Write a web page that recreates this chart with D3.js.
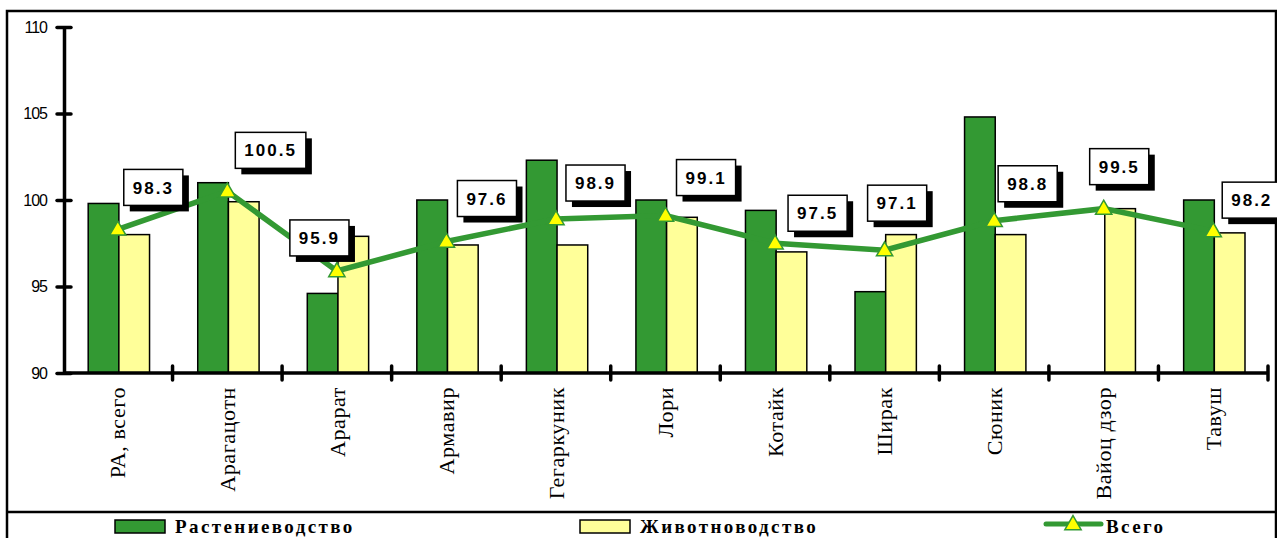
<!DOCTYPE html>
<html>
<head>
<meta charset="utf-8">
<script src="https://cdn.jsdelivr.net/npm/d3@7"></script>
<style>
  body { margin: 0; background: #fff; }
  svg { display: block; }
</style>
</head>
<body>
<div id="chart"></div>
<script>
// data
var regions = ["РА, всего", "Арагацотн", "Арарат", "Армавир", "Гегаркуник", "Лори",
               "Котайк", "Ширак", "Сюник", "Вайоц дзор", "Тавуш"];
var crops     = [99.8, 101.0, 94.6, 100.0, 102.3, 100.0, 99.4, 94.7, 104.8, null, 100.0];
var livestock = [98.0, 99.9, 97.9, 97.4, 97.4, 99.0, 97.0, 98.0, 98.0, 99.5, 98.1];
var total     = [98.3, 100.5, 95.9, 97.6, 98.9, 99.1, 97.5, 97.1, 98.8, 99.5, 98.2];
var yTicks = [90, 95, 100, 105, 110];
var seriesNames = ["Растениеводство", "Животноводство", "Всего"];

// where each value box sits relative to its point (box left, box bottom)
var labelNudge = [[6, -24], [8, -23], [-47, -15], [11, -25], [10, -18], [11, -20],
                  [13, -12], [-17, -29], [4, -19], [-14, -24], [9, -13]];

var width = 1277, height = 538;
var green = "#339933", yellow = "#FFFF99";

var svg = d3.select("#chart").append("svg")
    .attr("width", width)
    .attr("height", height);

// frame + legend separator
svg.append("rect")
    .attr("x", 7).attr("y", 11)
    .attr("width", 1269).attr("height", 560)
    .attr("fill", "none").attr("stroke", "#000").attr("stroke-width", 2.5);
svg.append("line")
    .attr("x1", 6).attr("x2", 1276).attr("y1", 512).attr("y2", 512)
    .attr("stroke", "#000").attr("stroke-width", 2.5);

var x = d3.scaleBand().domain(regions).range([63, 1268]).padding(0);
var step = x.bandwidth();
var x1 = d3.scaleBand().domain(["crops", "livestock"]).range([step * 0.23, step * 0.79]);
var y = d3.scaleLinear().domain([90, 110]).range([373, 27]);

var rows = regions.map(function(r, i){
    return {region: r, crops: crops[i], livestock: livestock[i], total: total[i], i: i};
});

// bars
var g = svg.append("g");
rows.forEach(function(d){
    [["crops", green], ["livestock", yellow]].forEach(function(s){
        var v = d[s[0]];
        if (v == null || v <= 90) return;
        g.append("rect")
            .attr("x", x(d.region) + x1(s[0]))
            .attr("y", y(v))
            .attr("width", x1.bandwidth())
            .attr("height", y(90) - y(v))
            .attr("fill", s[1])
            .attr("stroke", "#000")
            .attr("stroke-width", 1.5);
    });
});

// axes
var yAxis = svg.append("g")
    .attr("transform", "translate(64,0)")
    .call(d3.axisLeft(y).tickValues(yTicks).tickSize(0).tickPadding(17));
yAxis.select(".domain").attr("stroke-width", 3.5);
yAxis.selectAll(".tick text")
    .attr("font-family", "Arial, 'Liberation Sans', sans-serif")
    .attr("font-size", 16)
    .attr("letter-spacing", "-1px")
    .attr("fill", "#000");
yAxis.selectAll(".tick").append("line")
    .attr("x1", -7).attr("x2", 7)
    .attr("stroke", "#000").attr("stroke-width", 3.5).attr("stroke-linecap", "round");

var xAxis = svg.append("g")
    .attr("transform", "translate(0," + y(90) + ")");
xAxis.append("line")
    .attr("x1", 63).attr("x2", 1268)
    .attr("stroke", "#000").attr("stroke-width", 3.5);
xAxis.selectAll(".xt")
    .data(regions.slice(1).concat(["end"]))
    .enter().append("line")
    .attr("x1", function(d){ return d === "end" ? 1268 : x(d); })
    .attr("x2", function(d){ return d === "end" ? 1268 : x(d); })
    .attr("y1", -7).attr("y2", 7)
    .attr("stroke", "#000").attr("stroke-width", 3.5).attr("stroke-linecap", "round");

xAxis.selectAll(".xl")
    .data(regions)
    .enter().append("text")
    .attr("transform", function(d){
        return "translate(" + (x(d) + step / 2) + ",14) rotate(-90)";
    })
    .attr("dy", "0.35em")
    .attr("text-anchor", "end")
    .attr("font-family", "'Liberation Serif', 'Times New Roman', serif")
    .attr("font-size", 22)
    .attr("letter-spacing", "0.6px")
    .text(function(d){ return d; });

// total line
var px = function(d){ return x(d.region) + step / 2; };
var line = d3.line().x(px).y(function(d){ return y(d.total); });
svg.append("path")
    .datum(rows)
    .attr("d", line)
    .attr("fill", "none")
    .attr("stroke", green)
    .attr("stroke-width", 5.5);

var tri = d3.symbol().type(d3.symbolTriangle).size(115);
svg.selectAll(".mk")
    .data(rows).enter().append("path")
    .attr("d", tri)
    .attr("transform", function(d){ return "translate(" + px(d) + "," + (y(d.total) + 1) + ")"; })
    .attr("fill", "#FFFF00")
    .attr("stroke", green)
    .attr("stroke-width", 1.5);

// value boxes
rows.forEach(function(d){
    var nx = labelNudge[d.i][0], ny = labelNudge[d.i][1];
    var lg = svg.append("g");
    var t = lg.append("text")
        .attr("font-family", "Arial, 'Liberation Sans', sans-serif")
        .attr("font-weight", "bold")
        .attr("font-size", 17)
        .attr("letter-spacing", "2px")
        .text(d.total.toFixed(1));
    var tw = t.node().getComputedTextLength();
    var bw = tw + 18, bh = 36;
    var bx = px(d) + nx, by = y(d.total) + ny - bh;
    lg.insert("rect", "text")
        .attr("x", bx + 6).attr("y", by + 6)
        .attr("width", bw).attr("height", bh)
        .attr("fill", "#000");
    lg.insert("rect", "text")
        .attr("x", bx).attr("y", by)
        .attr("width", bw).attr("height", bh)
        .attr("fill", "#fff").attr("stroke", "#000").attr("stroke-width", 1.5);
    t.attr("x", bx + 9).attr("y", by + bh / 2).attr("dy", "0.36em");
});

// legend
var leg = svg.append("g");
var legFont = "'Liberation Serif', 'Times New Roman', serif";
leg.append("rect").attr("x", 115).attr("y", 520).attr("width", 50).attr("height", 13)
    .attr("fill", green).attr("stroke", "#000").attr("stroke-width", 1.5);
leg.append("rect").attr("x", 580).attr("y", 520).attr("width", 50).attr("height", 13)
    .attr("fill", yellow).attr("stroke", "#000").attr("stroke-width", 1.5);
leg.append("line").attr("x1", 1046).attr("x2", 1101).attr("y1", 524).attr("y2", 524)
    .attr("stroke", green).attr("stroke-width", 5).attr("stroke-linecap", "round");
leg.append("path").attr("d", tri)
    .attr("transform", "translate(1073,525)")
    .attr("fill", "#FFFF00").attr("stroke", green).attr("stroke-width", 1.5);
[[175, seriesNames[0]], [640, seriesNames[1]], [1106, seriesNames[2]]].forEach(function(l){
    leg.append("text")
        .attr("x", l[0]).attr("y", 533)
        .attr("font-family", legFont)
        .attr("font-weight", "bold")
        .attr("font-size", 19)
        .attr("letter-spacing", "2.4px")
        .text(l[1]);
});
</script>
</body>
</html>
